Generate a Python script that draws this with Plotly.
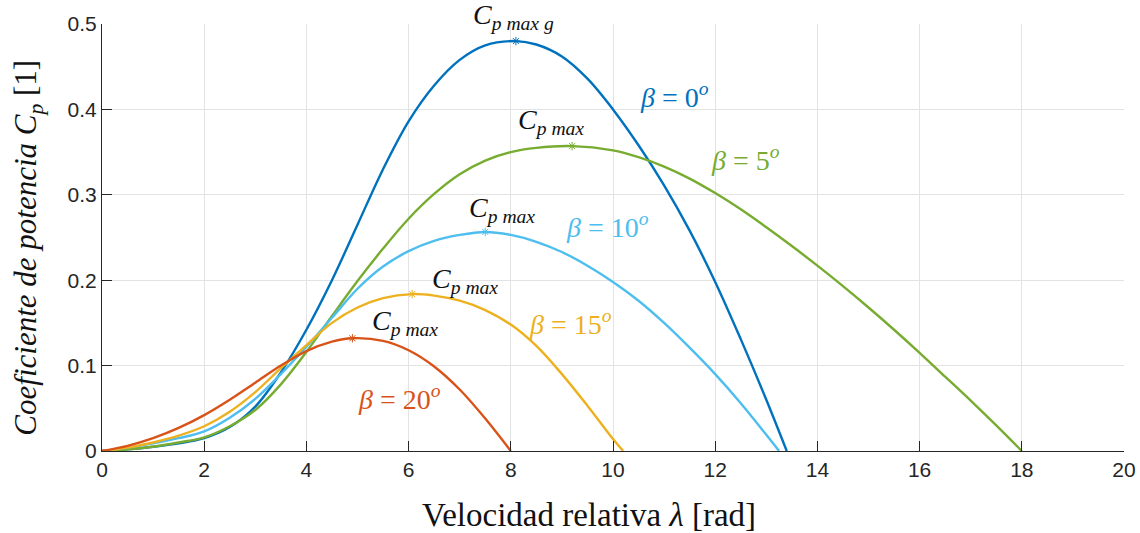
import numpy as np
import plotly.graph_objects as go

# ---------------- data ----------------
lam_b0 = [0, 0.5, 1, 1.5, 2, 2.5, 3, 3.5, 4, 4.5, 5, 5.5, 6, 6.5, 7, 7.5, 8.1, 8.5, 9, 9.5,
          10, 10.5, 11, 11.5, 12, 12.5, 13, 13.4]
cp_b0 = [0, 0.002, 0.005, 0.009, 0.015, 0.028, 0.052, 0.092, 0.142, 0.200, 0.265, 0.330,
         0.386, 0.428, 0.458, 0.475, 0.480, 0.476, 0.462, 0.436, 0.400, 0.358, 0.311, 0.258,
         0.198, 0.131, 0.060, 0]

lam_b5 = [0, 0.5, 1, 1.5, 2, 2.5, 3, 3.5, 4, 4.5, 5, 5.5, 6, 6.5, 7, 7.5, 8, 8.5, 9.2, 10,
          10.5, 11, 11.5, 12, 12.5, 13, 13.5, 14, 14.5, 15, 15.5, 16, 16.5, 17, 17.5, 18]
cp_b5 = [0, 0.002, 0.005, 0.010, 0.016, 0.029, 0.048, 0.078, 0.116, 0.158, 0.199, 0.237,
         0.272, 0.301, 0.324, 0.340, 0.350, 0.355, 0.357, 0.352, 0.344, 0.333, 0.319, 0.302,
         0.283, 0.262, 0.240, 0.217, 0.193, 0.168, 0.142, 0.115, 0.087, 0.059, 0.030, 0]

lam_b10 = [0, 0.5, 1, 1.5, 2, 2.5, 3, 3.5, 4, 4.5, 5, 5.5, 6, 6.5, 7, 7.5, 8, 8.5, 9, 9.5,
           10, 10.5, 11, 11.5, 12, 12.5, 13, 13.25]
cp_b10 = [0, 0.004, 0.009, 0.015, 0.023, 0.039, 0.061, 0.090, 0.122, 0.156, 0.190, 0.216,
          0.234, 0.246, 0.253, 0.2565, 0.253, 0.245, 0.233, 0.217, 0.198, 0.176, 0.150,
          0.121, 0.090, 0.056, 0.019, 0]

lam_b15 = [0, 0.5, 1, 1.5, 2, 2.5, 3, 3.5, 4, 4.5, 5, 5.5, 6.07, 6.5, 7, 7.5, 8, 8.5, 9,
           9.5, 10, 10.2]
cp_b15 = [0, 0.004, 0.010, 0.018, 0.029, 0.046, 0.069, 0.097, 0.124, 0.150, 0.168, 0.179,
          0.1837, 0.182, 0.176, 0.165, 0.148, 0.123, 0.090, 0.053, 0.014, 0]

lam_b20 = [0, 0.5, 1, 1.5, 2, 2.5, 3, 3.5, 4, 4.5, 4.9, 5.5, 6, 6.5, 7, 7.5, 8]
cp_b20 = [0, 0.006, 0.015, 0.027, 0.042, 0.060, 0.080, 0.100, 0.117, 0.128, 0.132, 0.129,
          0.118, 0.099, 0.072, 0.038, 0]

series_names = ["β = 0°", "β = 5°", "β = 10°", "β = 15°", "β = 20°"]
series_lam = [lam_b0, lam_b5, lam_b10, lam_b15, lam_b20]
series_cp = [cp_b0, cp_b5, cp_b10, cp_b15, cp_b20]
colors = ["#0072BD", "#77AC30", "#4DBEEE", "#EDB120", "#D95319"]

beta_labels = ["<i>β</i> = 0<sup><i>o</i></sup>", "<i>β</i> = 5<sup><i>o</i></sup>",
               "<i>β</i> = 10<sup><i>o</i></sup>", "<i>β</i> = 15<sup><i>o</i></sup>",
               "<i>β</i> = 20<sup><i>o</i></sup>"]
beta_label_pos = [(11.21, 0.416), (12.6, 0.343), (9.9, 0.264), (9.16, 0.151), (5.83, 0.063)]
cpmax_labels = ["<i>C</i><sub><i>p max g</i></sub>", "<i>C</i><sub><i>p max</i></sub>",
                "<i>C</i><sub><i>p max</i></sub>", "<i>C</i><sub><i>p max</i></sub>",
                "<i>C</i><sub><i>p max</i></sub>"]
cpmax_label_pos = [(8.06, 0.5), (8.79, 0.386), (7.83, 0.283), (7.1, 0.200), (5.93, 0.150)]
cpmax_label_shift = [8, 0, 0, 0, 0]

xticks = [0, 2, 4, 6, 8, 10, 12, 14, 16, 18, 20]
yticks = [0, 0.1, 0.2, 0.3, 0.4, 0.5]
ytick_text = ["0", "0.1", "0.2", "0.3", "0.4", "0.5"]

# ---------------- figure ----------------
fig = go.Figure()
for name, lx, cy, col in zip(series_names, series_lam, series_cp, colors):
    fig.add_trace(go.Scatter(x=lx, y=cy, mode="lines", name=name,
                             line=dict(color=col, width=2.4, shape="spline", smoothing=1.0),
                             showlegend=False, cliponaxis=False))
for name, lx, cy, col in zip(series_names, series_lam, series_cp, colors):
    i = int(np.argmax(cy))
    fig.add_trace(go.Scatter(x=[lx[i]], y=[cy[i]], mode="markers", name=name + " max",
                             marker=dict(symbol="asterisk-open", size=7, color=col,
                                         line=dict(color=col, width=1)),
                             showlegend=False, cliponaxis=False))

serif = "Liberation Serif, DejaVu Serif, serif"
ann = []
for txt, (ax, ay), col in zip(beta_labels, beta_label_pos, colors):
    ann.append(dict(x=ax, y=ay, xref="x", yref="y", text=txt, showarrow=False,
                    font=dict(family=serif, size=28, color=col)))
for txt, (ax, ay), ys in zip(cpmax_labels, cpmax_label_pos, cpmax_label_shift):
    ann.append(dict(x=ax, y=ay, xref="x", yref="y", text=txt, showarrow=False, yshift=ys,
                    font=dict(family=serif, size=28, color="#111111")))
# axis titles
ann.append(dict(x=0.4765, y=-0.15, xref="paper", yref="paper",
                text="Velocidad relativa <i>λ</i> [rad]", showarrow=False,
                yanchor="middle", xanchor="center",
                font=dict(family=serif, size=33, color="#111111")))
ann.append(dict(x=-0.0725, y=0.476, xref="paper", yref="paper", textangle=-90,
                text="<i>Coeficiente de potencia C</i><sub><i>p</i></sub> [1]",
                showarrow=False, xanchor="center", yanchor="middle",
                font=dict(family=serif, size=31, color="#111111")))

axis_common = dict(showgrid=True, gridcolor="#e3e3e3", gridwidth=1,
                   showline=True, linecolor="#262626", linewidth=1.2,
                   ticks="inside", ticklen=10, tickwidth=1, tickcolor="#262626",
                   zeroline=False, mirror=False, automargin=False,
                   tickfont=dict(family="Liberation Sans, Arial, sans-serif", size=21,
                                 color="#262626"))

fig.update_layout(
    width=1140, height=533,
    margin=dict(l=102, r=16, t=24, b=82, autoexpand=False),
    paper_bgcolor="white", plot_bgcolor="white",
    annotations=ann,
    xaxis=dict(range=[0, 20], tickvals=xticks, ticktext=[str(v) for v in xticks], **axis_common),
    yaxis=dict(range=[0, 0.5], tickvals=yticks, ticktext=ytick_text, **axis_common),
)

fig.write_html("out.html", config={"displayModeBar": False},
               post_script="document.body.style.margin='0';document.body.style.overflow='hidden';")
